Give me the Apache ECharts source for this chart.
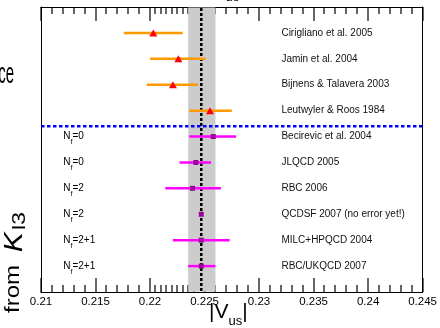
<!DOCTYPE html>
<html><head><meta charset="utf-8">
<script src="https://cdn.jsdelivr.net/npm/echarts@6/dist/echarts.min.js"></script>
<style>html,body{margin:0;padding:0;background:#fff}#c{width:440px;height:328px}</style>
</head><body><div id="c"></div>
<script>
// ---- data ----
const studies = ['Cirigliano et al. 2005','Jamin et al. 2004','Bijnens & Talavera 2003','Leutwyler & Roos 1984','Becirevic et al. 2004','JLQCD 2005','RBC 2006','QCDSF 2007 (no error yet!)','MILC+HPQCD 2004','RBC/UKQCD 2007'];
const flavours = ['','','','','0','0','2','2','2+1','2+1'];
const vusCentral = [0.2203,0.2226,0.2221,0.2255,0.2258,0.2242,0.2239,0.2247,0.2247,0.2247];
const vusLow  = [0.2176,0.2200,0.2197,0.2236,0.2236,0.2227,0.2214,null,0.2221,0.2235];
const vusHigh = [0.2230,0.2251,0.2244,0.2275,0.2279,0.2256,0.2265,null,0.2273,0.2260];
const markerKind = ['triangle','triangle','triangle','triangle','square','square','square','square','square','square'];
const bandVus = [0.2235, 0.2260];
const averageVus = 0.2247;
const separatorRow = 4.6;
const xMin = 0.21, xMax = 0.245, xStep = 0.005;
const majorTicks = [0.21, 0.215, 0.22, 0.225, 0.23, 0.235, 0.24, 0.245];
const minorTicks = [0.211,0.212,0.213,0.214,0.216,0.217,0.218,0.219,0.2205,0.221,0.2215,0.222,0.2225,0.223,0.2235,0.224,0.226,0.227,0.228,0.229,0.231,0.232,0.233,0.234,0.236,0.237,0.238,0.239,0.241,0.242,0.243,0.244];

const FONT = '"Liberation Sans", Arial, Helvetica, sans-serif';
const STUDY_LABEL_X = 0.23205;
const NF_LABEL_X = 0.21204;
const yMin = 0, yMax = 11;
const rows = studies.map((s, i) => i + 1);

const chart = echarts.init(document.getElementById('c'), null, {renderer: 'canvas'});

function mkXAxis(pos, labels) {
  return {
    type: 'value', position: pos, min: xMin, max: xMax, interval: xStep,
    axisLine: {show: true, onZero: false, lineStyle: {color: '#000', width: 1}},
    axisTick: {show: false},
    axisLabel: {show: labels, margin: 4, fontSize: 11.5, color: '#000', fontFamily: FONT,
      showMinLabel: true, showMaxLabel: true},
    splitLine: {show: false}
  };
}

const barData = [];
rows.forEach((r, i) => { if (vusLow[i] != null) barData.push([vusLow[i], vusHigh[i], r, i]); });
const triData = [], sqData = [];
rows.forEach((r, i) => { (markerKind[i] === 'triangle' ? triData : sqData).push([vusCentral[i], r]); });
const tickData = majorTicks.map(v => [v, 14]).concat(minorTicks.map(v => [v, 7]));

const option = {
  animation: false,
  backgroundColor: '#fff',
  grid: {left: 41, right: 16, top: 7, bottom: 36},
  xAxis: [mkXAxis('bottom', true), mkXAxis('top', false)],
  yAxis: [
    {type: 'value', min: yMin, max: yMax, inverse: true, position: 'left',
     axisLine: {show: true, lineStyle: {color: '#000', width: 1}}, axisTick: {show: false}, axisLabel: {show: false}, splitLine: {show: false}},
    {type: 'value', min: yMin, max: yMax, inverse: true, position: 'right',
     axisLine: {show: true, lineStyle: {color: '#000', width: 1}}, axisTick: {show: false}, axisLabel: {show: false}, splitLine: {show: false}}
  ],
  series: [
    // inward ticks on top and bottom axes, placed by the x scale (thin rects)
    {type: 'custom', z: 0, silent: true, clip: false, data: tickData, encode: {x: 0},
     renderItem: function (params, api) {
       const v = api.value(0), len = api.value(1);
       const x = Math.round(api.coord([v, yMin])[0]);
       const top = Math.round(api.coord([xMin, yMin])[1]), bot = Math.round(api.coord([xMin, yMax])[1]);
       return {type: 'group', children: [
         {type: 'rect', shape: {x: x - 0.6, y: top, width: 1.2, height: len}, style: {fill: '#000'}},
         {type: 'rect', shape: {x: x - 0.6, y: bot - len, width: 1.2, height: len}, style: {fill: '#000'}}
       ]};
     }},
    // shaded band, reference line, separator
    {type: 'custom', z: 1, silent: true, clip: false, data: [[averageVus, separatorRow]],
     renderItem: function (params, api) {
       const a = api.coord([bandVus[0], yMin]);
       const b = api.coord([bandVus[1], yMax]);
       const c0 = api.coord([averageVus, yMin]);
       const c1 = api.coord([averageVus, yMax]);
       const s0 = api.coord([xMin, separatorRow]);
       const s1 = api.coord([xMax, separatorRow]);
       return {type: 'group', children: [
         {type: 'rect', shape: {x: a[0], y: a[1] + 0.5, width: b[0] - a[0], height: b[1] - a[1] - 1}, style: {fill: '#cccccc'}},
         {type: 'line', shape: {x1: c0[0], y1: c0[1] + 1, x2: c1[0], y2: c1[1]}, style: {stroke: '#000', lineWidth: 2.5, lineDash: [3, 2]}},
         {type: 'line', shape: {x1: s0[0], y1: s0[1], x2: s1[0], y2: s1[1]}, style: {stroke: '#0000ff', lineWidth: 2.5, lineDash: [3.5, 2.5]}}
       ]};
     }},
    {type: 'custom', z: 3, data: barData,
     renderItem: function (params, api) {
       const y = api.value(2);
       const p1 = api.coord([api.value(0), y]);
       const p2 = api.coord([api.value(1), y]);
       const i = api.value(3);
       return {type: 'line', shape: {x1: p1[0], y1: p1[1], x2: p2[0], y2: p2[1]},
         style: {stroke: markerKind[i] === 'triangle' ? '#ff9900' : '#ff00ff', lineWidth: 2.5}};
     }},
    {type: 'scatter', z: 4, data: triData, symbol: 'triangle', symbolSize: [8, 7],
     itemStyle: {color: '#ff0000', opacity: 1}},
    {type: 'scatter', z: 4, data: sqData, symbol: 'rect', symbolSize: 5,
     itemStyle: {color: '#990099', opacity: 1}},
    {type: 'custom', z: 5, data: rows.map((r, i) => [r, i]),
     renderItem: function (params, api) {
       const r = api.value(0), i = api.value(1);
       const p = api.coord([STUDY_LABEL_X, r]);
       const children = [{type: 'text', x: p[0], y: p[1],
         style: {text: studies[i], fill: '#111', font: '10px ' + FONT, textAlign: 'left', textVerticalAlign: 'middle'}}];
       if (flavours[i]) {
         const q = api.coord([NF_LABEL_X, r]);
         children.push({type: 'text', x: q[0], y: q[1] + 2,
           style: {text: '{n|N}{s|f}{n|=' + flavours[i] + '}', textAlign: 'left', textVerticalAlign: 'middle',
             rich: {n: {fontSize: 10, fontFamily: FONT, color: '#111', lineHeight: 14, verticalAlign: 'top'},
                    s: {fontSize: 7, fontFamily: FONT, color: '#111', lineHeight: 8, verticalAlign: 'bottom'}}}});
       }
       return {type: 'group', children: children};
     }}
  ],
  graphic: [
    {type: 'text', x: 14, y: 90, scaleY: 2, style: {text: 'ce', font: '15px ' + FONT, fill: '#000', textAlign: 'right', textVerticalAlign: 'bottom'}},
    {type: 'text', x: 29, y: 313, rotation: Math.PI / 2, scaleX: 1.2,
     style: {text: '{a|from }{k|K}{s|l3}', textAlign: 'left', textVerticalAlign: 'bottom',
       rich: {a: {fontSize: 20, fontFamily: FONT, color: '#000', lineHeight: 26, verticalAlign: 'top'},
              k: {fontSize: 25, fontFamily: FONT, fontStyle: 'italic', color: '#000', lineHeight: 26, verticalAlign: 'top', padding: [0, 0, 0, 5]},
              s: {fontSize: 19, fontFamily: FONT, color: '#000', lineHeight: 19, verticalAlign: 'bottom', padding: [0, 0, 0, 2]}}}},
    {type: 'text', x: 209, y: 302,
     style: {text: '{a||V}{b|us}{a||}', textAlign: 'left', textVerticalAlign: 'top',
       rich: {a: {fontSize: 21, fontFamily: FONT, color: '#000', lineHeight: 26, verticalAlign: 'top'},
              b: {fontSize: 13, fontFamily: FONT, color: '#000', lineHeight: 13, verticalAlign: 'bottom'}}}},
    {type: 'text', x: 206, y: -22,
     style: {text: '{a||V}{b|us}{a||}', textAlign: 'left', textVerticalAlign: 'top',
       rich: {a: {fontSize: 21, fontFamily: FONT, color: '#000', lineHeight: 26, verticalAlign: 'top'},
              b: {fontSize: 13, fontFamily: FONT, color: '#000', lineHeight: 13, verticalAlign: 'bottom'}}}}
  ]
};
chart.setOption(option);
</script></body></html>
